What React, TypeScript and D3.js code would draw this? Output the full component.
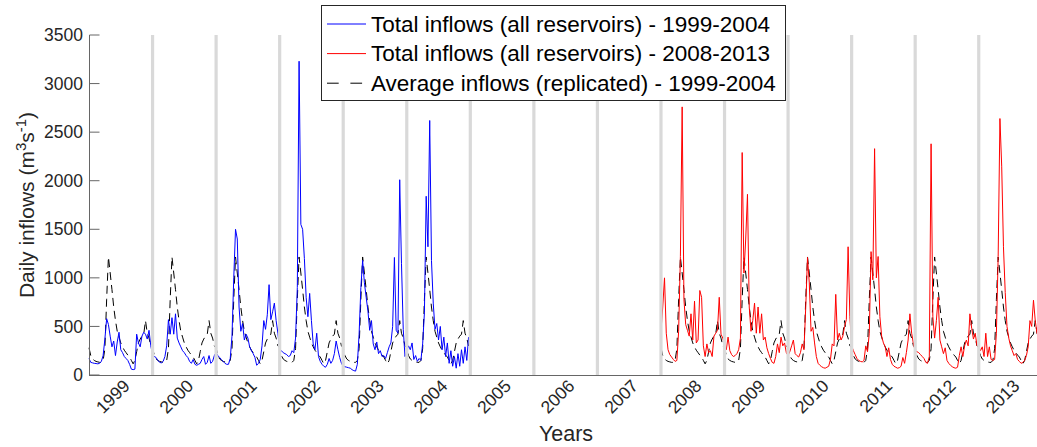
import React from "react";
import * as d3 from "d3";

// Samples per year (about every ten days)
const PER_YEAR = 36;

// Total inflows (all reservoirs), m3/s, 1999-2004
const blue1999 = [170, 130, 125, 120, 118, 115, 120, 140, 200, 370, 580, 520, 400, 290, 350, 200, 340, 440, 260, 230, 190, 170, 150, 110, 60, 55, 60, 420, 330, 290, 400, 440, 420, 370, 460, 300];
const blue2000 = [210, 190, 180, 150, 130, 125, 140, 190, 300, 570, 420, 590, 420, 630, 380, 330, 290, 250, 230, 200, 180, 140, 120, 160, 110, 100, 110, 120, 160, 190, 110, 130, 200, 120, 140, 200];
const blue2001 = [230, 200, 180, 160, 140, 120, 110, 110, 170, 400, 1000, 1500, 1400, 700, 450, 530, 360, 420, 380, 290, 250, 220, 180, 100, 120, 160, 300, 560, 470, 620, 930, 570, 650, 740, 560, 430];
const blue2002 = [260, 250, 230, 220, 210, 190, 200, 250, 230, 380, 900, 3230, 1550, 1500, 1200, 800, 600, 840, 560, 320, 260, 430, 190, 140, 110, 90, 80, 110, 170, 120, 150, 220, 350, 260, 180, 120];
const blue2003 = [90, 85, 80, 75, 70, 55, 45, 40, 110, 420, 900, 1180, 950, 800, 660, 460, 560, 320, 260, 340, 220, 250, 190, 200, 170, 230, 290, 330, 500, 1210, 460, 430, 2010, 1150, 470, 190];
const blue2004 = [250, 300, 260, 330, 160, 200, 140, 170, 150, 320, 640, 1840, 1320, 2620, 1180, 740, 470, 530, 360, 500, 260, 390, 190, 330, 120, 250, 90, 190, 70, 220, 90, 260, 120, 290, 150, 390];

// Total inflows (all reservoirs), m3/s, 2008-2013
const red2008 = [450, 700, 1000, 430, 260, 210, 185, 160, 140, 150, 450, 1220, 2760, 780, 520, 460, 400, 630, 360, 760, 330, 360, 870, 800, 300, 190, 320, 230, 250, 190, 400, 430, 460, 800, 420, 380];
const red2009 = [300, 260, 390, 250, 210, 190, 200, 220, 260, 380, 2290, 1050, 1400, 1860, 700, 450, 560, 740, 430, 700, 430, 630, 360, 390, 280, 220, 170, 130, 120, 190, 320, 230, 390, 300, 330, 230];
const red2010 = [200, 240, 300, 360, 220, 200, 185, 230, 320, 260, 700, 1210, 950, 450, 490, 330, 190, 120, 100, 85, 75, 70, 80, 90, 160, 320, 300, 830, 360, 430, 360, 400, 500, 570, 1320, 600];
const red2011 = [300, 250, 210, 170, 150, 140, 135, 150, 300, 240, 430, 1270, 980, 2330, 1000, 1220, 600, 400, 330, 290, 190, 280, 160, 110, 90, 80, 70, 75, 90, 180, 120, 230, 360, 630, 430, 320];
const red2012 = [250, 240, 230, 210, 190, 170, 130, 120, 190, 2380, 600, 380, 560, 800, 360, 290, 220, 280, 150, 120, 100, 85, 75, 70, 80, 200, 290, 190, 300, 360, 300, 630, 480, 370, 430, 300];
const red2013 = [300, 250, 290, 190, 430, 190, 290, 160, 150, 160, 430, 1220, 2640, 2150, 1320, 850, 500, 380, 300, 250, 200, 220, 160, 140, 120, 130, 150, 200, 290, 560, 500, 770, 560, 430, 400, 350];

// Average annual inflow profile over 1999-2004 (replicated every year)
const avgProfile = [280, 200, 165, 150, 140, 135, 130, 130, 150, 270, 780, 1215, 1050, 880, 700, 560, 450, 390, 330, 290, 255, 230, 205, 185, 150, 115, 150, 240, 330, 370, 400, 420, 560, 430, 380, 300];

const firstYears = [1999, 2000, 2001, 2002, 2003, 2004];
const secondYears = [2008, 2009, 2010, 2011, 2012, 2013];
const blueSeries = [blue1999, blue2000, blue2001, blue2002, blue2003, blue2004];
const redSeries = [red2008, red2009, red2010, red2011, red2012, red2013];

const yearLabels = ["1999", "2000", "2001", "2002", "2003", "2004", "2005", "2006", "2007", "2008", "2009", "2010", "2011", "2012", "2013"];
const yTicks = [0, 500, 1000, 1500, 2000, 2500, 3000, 3500];

const legendItems = [
  { label: "Total inflows (all reservoirs) - 1999-2004", color: "#0000ff", dash: null },
  { label: "Total inflows (all reservoirs) - 2008-2013", color: "#ff0000", dash: null },
  { label: "Average inflows (replicated) - 1999-2004", color: "#000000", dash: "11.7,11.7" },
];

type Pt = [number, number];

function toPoints(years: number[], arrays: number[][]): Pt[] {
  return arrays.flatMap((vals, k) => vals.map((v, i) => [years[k] + i / PER_YEAR, v] as Pt));
}

const FONT = "'Liberation Sans', Arial, Helvetica, sans-serif";

export default function App() {
  const W = 1037;
  const H = 447;
  const x = d3.scaleLinear().domain([1999, 2014]).range([89, 1042.3]);
  const y = d3.scaleLinear().domain([0, 3500]).range([375, 35]);
  const line = d3.line<Pt>().x((d) => x(d[0])).y((d) => y(d[1]));

  const bluePts = toPoints(firstYears, blueSeries);
  const redPts = toPoints(secondYears, redSeries);
  const avgA = toPoints(firstYears, firstYears.map(() => avgProfile));
  const avgB = toPoints(secondYears, secondYears.map(() => avgProfile));

  const boundaries = d3.range(2000, 2014);
  const axisColor = "#262626";

  return (
    <svg width={W} height={H} style={{ position: "absolute", left: 0, top: 0, background: "#fff" }} fontFamily={FONT}>
      <rect x={0} y={0} width={W} height={H} fill="#fff" />
      {/* data */}
      <path d={line(avgA) || ""} fill="none" stroke="#000" strokeWidth={1} strokeDasharray="8,5" />
      <path d={line(avgB) || ""} fill="none" stroke="#000" strokeWidth={1} strokeDasharray="8,5" />
      <path d={line(bluePts) || ""} fill="none" stroke="#0000ff" strokeWidth={1} />
      <path d={line(redPts) || ""} fill="none" stroke="#ff0000" strokeWidth={1} />

      {/* year boundaries */}
      {boundaries.map((b) => (
        <line key={b} x1={x(b)} x2={x(b)} y1={y(3500)} y2={y(0)} stroke="#d9d9d9" strokeWidth={3.2} />
      ))}

      {/* y axis */}
      <line x1={89.5} x2={89.5} y1={y(3500)} y2={y(0) + 0.5} stroke="#666" strokeWidth={1} />
      {yTicks.map((t) => (
        <g key={t}>
          <line x1={89.5} x2={99.5} y1={y(t)} y2={y(t)} stroke="#666" strokeWidth={1} />
          <text x={83} y={y(t)} dy="0.35em" textAnchor="end" fontSize={17.5} fill={axisColor}>
            {t}
          </text>
        </g>
      ))}

      {/* x axis */}
      <line x1={89} x2={W} y1={y(0) + 0.5} y2={y(0) + 0.5} stroke="#666" strokeWidth={1} />
      {yearLabels.map((lab, i) => {
        const cx = x(1999 + i + 0.5) + 10;
        const cy = y(0) + 12;
        return (
          <text key={lab} x={cx} y={cy} textAnchor="end" fontSize={17.5} fill={axisColor} transform={`rotate(-45 ${cx} ${cy})`}>
            {lab}
          </text>
        );
      })}

      {/* axis titles */}
      <text x={566} y={441} textAnchor="middle" fontSize={21.5} fill={axisColor}>
        Years
      </text>
      <text transform={`translate(34 ${(y(0) + y(3500)) / 2}) rotate(-90)`} textAnchor="middle" fontSize={21} fill={axisColor}>
        Daily inflows (m
        <tspan dy={-8} fontSize={15}>3</tspan>
        <tspan dy={8}>s</tspan>
        <tspan dy={-8} fontSize={15}>-1</tspan>
        <tspan dy={8}>)</tspan>
      </text>

      {/* legend */}
      <rect x={321.5} y={5.5} width={464} height={95} fill="#fff" stroke="#262626" strokeWidth={1} />
      {legendItems.map((it, i) => {
        const ly = 24 + i * 29.6;
        return (
          <g key={it.label}>
            <line x1={327} x2={366} y1={ly} y2={ly} stroke={it.color} strokeWidth={1} strokeDasharray={it.dash || undefined} />
            <text x={371} y={ly + 7.8} fontSize={22.5} fill="#000">
              {it.label}
            </text>
          </g>
        );
      })}
    </svg>
  );
}
